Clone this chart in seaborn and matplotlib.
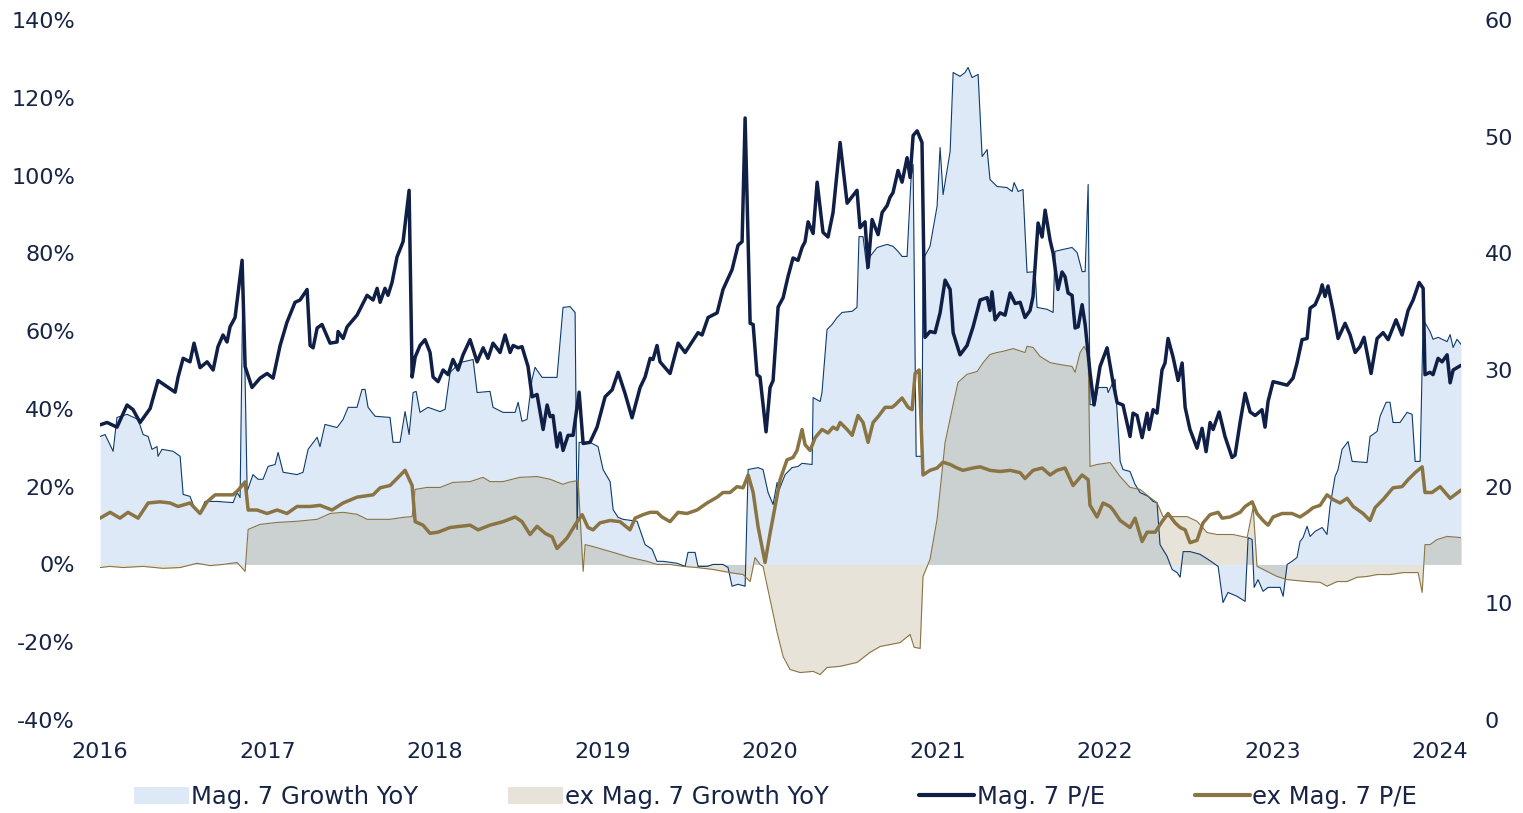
import numpy as np
import pandas as pd
import matplotlib
matplotlib.use("Agg")
import matplotlib.pyplot as plt
from matplotlib.patches import Patch
from matplotlib.lines import Line2D
import seaborn as sns

# (decimal year, value) pairs
mag7_growth = [
    (2016.000, 32.9), (2016.030, 33.4), (2016.078, 29.1), (2016.101, 37.8), (2016.161, 38.6),
    (2016.227, 37.3), (2016.257, 33.4), (2016.287, 32.9), (2016.310, 29.6), (2016.340, 30.3),
    (2016.346, 27.8), (2016.370, 29.6), (2016.436, 29.1), (2016.478, 27.8), (2016.496, 18.0),
    (2016.537, 17.5), (2016.567, 14.1), (2016.597, 13.4), (2016.627, 16.2), (2016.699, 16.2),
    (2016.794, 15.9), (2016.818, 18.5), (2016.836, 17.2), (2016.854, 76.6), (2016.878, 18.8),
    (2016.913, 23.1), (2016.943, 21.9), (2016.973, 21.9), (2017.003, 25.2), (2017.045, 25.7),
    (2017.063, 28.8), (2017.093, 23.7), (2017.176, 23.1), (2017.212, 23.7), (2017.242, 29.6),
    (2017.296, 32.7), (2017.313, 30.3), (2017.343, 36.0), (2017.415, 35.2), (2017.451, 37.3),
    (2017.481, 40.4), (2017.534, 40.4), (2017.564, 45.0), (2017.582, 45.0), (2017.600, 40.4),
    (2017.642, 38.1), (2017.731, 37.8), (2017.749, 31.4), (2017.791, 31.4), (2017.821, 39.3),
    (2017.845, 33.4), (2017.869, 44.2), (2017.887, 44.5), (2017.910, 39.1), (2017.958, 40.4),
    (2018.030, 39.3), (2018.060, 39.9), (2018.090, 49.4), (2018.149, 51.9), (2018.227, 52.7),
    (2018.251, 44.2), (2018.328, 44.5), (2018.346, 40.4), (2018.406, 39.1), (2018.478, 39.1),
    (2018.496, 41.7), (2018.519, 36.8), (2018.549, 37.3), (2018.579, 47.6), (2018.597, 50.7),
    (2018.639, 48.1), (2018.728, 48.1), (2018.764, 66.1), (2018.806, 66.3), (2018.836, 64.8),
    (2018.848, 9.0), (2018.860, 31.4), (2018.925, 31.4), (2018.973, 30.3), (2019.003, 24.4),
    (2019.045, 21.3), (2019.063, 14.1), (2019.093, 12.1), (2019.122, 11.6), (2019.206, 11.1),
    (2019.254, 5.1), (2019.296, 3.9), (2019.325, 0.8), (2019.361, 0.8), (2019.445, 0.3),
    (2019.493, -0.5), (2019.510, 3.1), (2019.552, 3.1), (2019.570, -0.5), (2019.624, -0.5),
    (2019.660, 0.0), (2019.719, 0.0), (2019.749, -0.8), (2019.773, -5.6), (2019.809, -5.1),
    (2019.851, -5.6), (2019.869, 24.4), (2019.928, 24.9), (2019.958, 24.4), (2019.988, 18.5),
    (2020.018, 15.4), (2020.042, 21.1), (2020.048, 18.5), (2020.090, 23.1), (2020.131, 24.9),
    (2020.167, 25.2), (2020.191, 26.0), (2020.251, 25.7), (2020.257, 42.9), (2020.299, 41.9),
    (2020.310, 44.2), (2020.340, 60.4), (2020.370, 61.7), (2020.400, 63.5), (2020.430, 64.8),
    (2020.490, 65.1), (2020.519, 66.1), (2020.531, 84.3), (2020.555, 84.3), (2020.579, 75.9),
    (2020.597, 79.2), (2020.639, 81.5), (2020.699, 82.3), (2020.734, 81.8), (2020.764, 80.5),
    (2020.788, 79.2), (2020.818, 79.2), (2020.842, 99.5), (2020.854, 102.9), (2020.872, 27.8),
    (2020.907, 27.8), (2020.913, 78.4), (2020.955, 81.8), (2020.997, 92.1), (2021.015, 107.2),
    (2021.033, 95.1), (2021.075, 106.2), (2021.093, 126.5), (2021.134, 125.5), (2021.164, 126.5),
    (2021.182, 127.8), (2021.206, 125.2), (2021.242, 126.0), (2021.266, 104.9), (2021.296, 106.7),
    (2021.313, 99.0), (2021.355, 97.2), (2021.415, 96.9), (2021.445, 95.9), (2021.457, 98.2),
    (2021.481, 95.9), (2021.510, 96.4), (2021.534, 75.1), (2021.582, 75.3), (2021.594, 66.1),
    (2021.654, 65.6), (2021.690, 64.8), (2021.701, 80.5), (2021.749, 81.0), (2021.803, 81.5),
    (2021.833, 80.2), (2021.863, 75.3), (2021.881, 75.3), (2021.899, 97.7), (2021.910, 41.1),
    (2021.940, 41.1), (2021.958, 45.5), (2022.012, 45.5), (2022.018, 44.2), (2022.042, 46.3),
    (2022.060, 47.6), (2022.090, 26.5), (2022.107, 24.4), (2022.149, 23.9), (2022.179, 20.6),
    (2022.209, 18.5), (2022.257, 17.5), (2022.287, 16.2), (2022.310, 15.9), (2022.328, 5.1),
    (2022.370, 2.1), (2022.400, -1.3), (2022.430, -2.1), (2022.448, -3.3), (2022.466, 3.3),
    (2022.507, 3.3), (2022.567, 2.6), (2022.615, 1.3), (2022.675, -0.5), (2022.704, -9.8),
    (2022.734, -7.2), (2022.788, -8.2), (2022.836, -9.5), (2022.854, 6.9), (2022.878, 6.4),
    (2022.890, -5.9), (2022.913, -3.9), (2022.943, -6.9), (2022.973, -5.9), (2023.045, -5.9),
    (2023.063, -8.2), (2023.087, 0.0), (2023.116, 0.8), (2023.146, 1.8), (2023.164, 5.9),
    (2023.182, 6.9), (2023.206, 9.8), (2023.224, 7.2), (2023.254, 8.5), (2023.296, 9.5),
    (2023.325, 7.7), (2023.343, 14.9), (2023.373, 22.6), (2023.391, 24.4), (2023.415, 29.6),
    (2023.451, 31.6), (2023.475, 26.5), (2023.564, 26.2), (2023.582, 32.9), (2023.624, 34.2),
    (2023.642, 38.1), (2023.678, 41.7), (2023.701, 41.7), (2023.719, 36.5), (2023.761, 36.5),
    (2023.803, 39.1), (2023.833, 38.6), (2023.851, 26.5), (2023.881, 26.5), (2023.899, 63.0),
    (2023.940, 59.9), (2023.958, 57.9), (2023.988, 58.4), (2024.042, 57.3), (2024.060, 59.1),
    (2024.078, 55.8), (2024.101, 57.9), (2024.125, 56.6),
]

ex_mag7_growth = [
    (2016.000, -0.8), (2016.060, -0.5), (2016.137, -0.8), (2016.257, -0.5), (2016.376, -1.0),
    (2016.478, -0.8), (2016.579, 0.3), (2016.657, -0.3), (2016.734, 0.0), (2016.818, 0.5),
    (2016.866, -1.8), (2016.884, 9.0), (2016.955, 10.3), (2017.057, 10.8), (2017.176, 11.1),
    (2017.296, 11.6), (2017.373, 13.1), (2017.451, 13.4), (2017.534, 12.9), (2017.594, 11.6),
    (2017.731, 11.6), (2017.809, 12.1), (2017.863, 12.3), (2017.881, 19.3), (2017.952, 19.8),
    (2018.030, 19.8), (2018.107, 21.1), (2018.209, 21.3), (2018.287, 22.4), (2018.328, 21.3),
    (2018.406, 21.3), (2018.507, 22.4), (2018.609, 22.6), (2018.687, 21.9), (2018.734, 21.1),
    (2018.764, 20.6), (2018.794, 21.1), (2018.854, 21.6), (2018.884, -1.8), (2018.896, 5.1),
    (2018.943, 4.6), (2019.063, 3.1), (2019.164, 1.8), (2019.266, 0.8), (2019.325, 0.0),
    (2019.403, 0.0), (2019.481, -0.5), (2019.564, -0.8), (2019.660, -1.3), (2019.761, -2.1),
    (2019.839, -2.6), (2019.881, -4.4), (2019.910, 1.8), (2019.940, 0.0), (2019.958, -0.5),
    (2020.000, -9.0), (2020.042, -17.5), (2020.078, -23.7), (2020.119, -27.0), (2020.179, -27.8),
    (2020.257, -27.5), (2020.299, -28.3), (2020.340, -26.5), (2020.418, -26.2), (2020.519, -25.2),
    (2020.597, -22.6), (2020.657, -21.1), (2020.776, -20.1), (2020.836, -18.0), (2020.860, -21.3),
    (2020.896, -21.6), (2020.913, -3.1), (2020.955, 1.3), (2020.997, 11.6), (2021.045, 31.4),
    (2021.087, 39.9), (2021.122, 46.8), (2021.176, 48.9), (2021.236, 49.6), (2021.272, 51.9),
    (2021.313, 54.0), (2021.355, 54.5), (2021.391, 54.8), (2021.451, 55.5), (2021.522, 54.5),
    (2021.534, 56.1), (2021.570, 55.8), (2021.612, 53.5), (2021.672, 51.9), (2021.731, 51.4),
    (2021.803, 50.9), (2021.821, 49.4), (2021.851, 54.5), (2021.875, 56.1), (2021.899, 54.0),
    (2021.910, 25.2), (2021.952, 25.7), (2022.030, 26.2), (2022.090, 22.6), (2022.149, 19.8),
    (2022.209, 19.3), (2022.269, 17.2), (2022.310, 15.9), (2022.346, 12.3), (2022.490, 12.3),
    (2022.549, 11.1), (2022.609, 8.2), (2022.669, 7.7), (2022.764, 7.7), (2022.848, 6.9),
    (2022.884, 14.7), (2022.907, -0.5), (2022.967, -1.8), (2023.027, -3.1), (2023.087, -3.9),
    (2023.206, -4.4), (2023.284, -4.6), (2023.325, -5.6), (2023.385, -4.4), (2023.445, -4.4),
    (2023.504, -3.3), (2023.564, -3.1), (2023.624, -2.6), (2023.701, -2.6), (2023.779, -2.1),
    (2023.869, -2.1), (2023.893, -7.2), (2023.910, 5.1), (2023.940, 5.1), (2023.982, 6.4),
    (2024.042, 7.2), (2024.125, 6.9),
]

mag7_pe = [
    (2016.000, 25.3), (2016.042, 25.5), (2016.101, 25.1), (2016.161, 27.0), (2016.197, 26.6),
    (2016.239, 25.5), (2016.299, 26.7), (2016.346, 29.1), (2016.448, 28.1), (2016.466, 29.4),
    (2016.496, 31.0), (2016.537, 30.7), (2016.561, 32.3), (2016.597, 30.2), (2016.639, 30.7),
    (2016.675, 30.0), (2016.704, 32.0), (2016.734, 33.0), (2016.758, 32.4), (2016.776, 33.7),
    (2016.806, 34.5), (2016.848, 39.4), (2016.866, 30.3), (2016.907, 28.5), (2016.955, 29.3),
    (2016.997, 29.7), (2017.033, 29.3), (2017.075, 32.1), (2017.116, 34.1), (2017.164, 35.8),
    (2017.194, 36.0), (2017.236, 36.9), (2017.254, 32.1), (2017.272, 31.9), (2017.296, 33.6),
    (2017.325, 33.9), (2017.373, 32.3), (2017.415, 32.4), (2017.421, 33.3), (2017.451, 32.7),
    (2017.475, 33.7), (2017.534, 34.7), (2017.594, 36.4), (2017.630, 36.0), (2017.654, 37.0),
    (2017.672, 35.8), (2017.701, 37.0), (2017.719, 36.4), (2017.743, 37.5), (2017.773, 39.7),
    (2017.809, 41.0), (2017.845, 45.4), (2017.863, 29.4), (2017.881, 31.1), (2017.910, 32.1),
    (2017.940, 32.6), (2017.970, 31.5), (2017.988, 29.4), (2018.018, 29.0), (2018.048, 30.0),
    (2018.078, 29.6), (2018.107, 30.9), (2018.137, 30.0), (2018.167, 31.3), (2018.209, 32.6),
    (2018.251, 30.7), (2018.287, 31.9), (2018.316, 31.0), (2018.346, 32.3), (2018.388, 31.5),
    (2018.418, 33.0), (2018.448, 31.5), (2018.466, 32.1), (2018.496, 31.9), (2018.519, 32.0),
    (2018.555, 30.3), (2018.579, 27.7), (2018.609, 27.9), (2018.645, 24.9), (2018.669, 27.0),
    (2018.687, 26.0), (2018.704, 26.1), (2018.728, 23.4), (2018.746, 24.6), (2018.764, 23.1),
    (2018.794, 24.4), (2018.824, 24.4), (2018.860, 28.1), (2018.884, 23.7), (2018.925, 23.8),
    (2018.967, 25.1), (2019.015, 27.7), (2019.057, 28.3), (2019.093, 29.8), (2019.134, 28.0),
    (2019.176, 25.9), (2019.224, 28.5), (2019.254, 29.4), (2019.284, 31.0), (2019.301, 30.9),
    (2019.325, 32.1), (2019.343, 30.7), (2019.403, 29.7), (2019.451, 32.3), (2019.493, 31.5),
    (2019.570, 33.2), (2019.594, 33.0), (2019.630, 34.5), (2019.684, 34.9), (2019.719, 36.9),
    (2019.773, 38.6), (2019.809, 40.7), (2019.833, 41.0), (2019.851, 51.6), (2019.881, 34.0),
    (2019.899, 33.9), (2019.922, 29.6), (2019.940, 29.4), (2019.976, 24.7), (2020.000, 28.5),
    (2020.018, 29.1), (2020.048, 35.4), (2020.078, 36.2), (2020.107, 38.0), (2020.137, 39.6),
    (2020.167, 39.4), (2020.191, 40.5), (2020.209, 41.0), (2020.227, 42.7), (2020.257, 41.7),
    (2020.281, 46.1), (2020.316, 41.8), (2020.346, 41.4), (2020.376, 43.5), (2020.418, 49.5),
    (2020.460, 44.3), (2020.519, 45.4), (2020.537, 42.2), (2020.567, 42.7), (2020.585, 38.8),
    (2020.609, 42.9), (2020.645, 41.6), (2020.669, 43.5), (2020.699, 44.1), (2020.716, 44.8),
    (2020.734, 45.2), (2020.764, 47.1), (2020.788, 46.1), (2020.818, 48.2), (2020.836, 46.5),
    (2020.854, 50.1), (2020.878, 50.5), (2020.907, 49.5), (2020.925, 32.8), (2020.955, 33.3),
    (2020.985, 33.2), (2021.015, 34.9), (2021.045, 37.7), (2021.075, 36.9), (2021.093, 33.2),
    (2021.134, 31.3), (2021.176, 32.1), (2021.212, 33.7), (2021.254, 36.0), (2021.296, 36.2),
    (2021.313, 35.1), (2021.325, 36.7), (2021.343, 34.3), (2021.373, 34.9), (2021.403, 34.7),
    (2021.433, 36.6), (2021.463, 35.7), (2021.493, 35.8), (2021.522, 34.5), (2021.552, 35.1),
    (2021.570, 36.3), (2021.600, 42.6), (2021.624, 41.4), (2021.642, 43.7), (2021.672, 41.1),
    (2021.690, 40.0), (2021.719, 36.9), (2021.743, 38.4), (2021.761, 38.0), (2021.779, 36.6),
    (2021.803, 36.4), (2021.821, 33.6), (2021.839, 33.7), (2021.863, 35.6), (2021.881, 33.9),
    (2021.910, 29.8), (2021.934, 27.0), (2021.970, 30.3), (2022.012, 31.9), (2022.048, 28.9),
    (2022.072, 27.2), (2022.107, 27.0), (2022.149, 24.3), (2022.167, 26.3), (2022.191, 26.1),
    (2022.221, 24.2), (2022.251, 26.3), (2022.263, 24.9), (2022.287, 26.6), (2022.310, 26.3),
    (2022.340, 30.0), (2022.358, 30.6), (2022.376, 32.7), (2022.406, 31.1), (2022.436, 29.1),
    (2022.460, 30.6), (2022.478, 26.8), (2022.507, 24.9), (2022.549, 23.3), (2022.579, 25.0),
    (2022.603, 23.0), (2022.627, 25.5), (2022.645, 24.9), (2022.681, 26.4), (2022.716, 24.3),
    (2022.758, 22.5), (2022.776, 22.7), (2022.806, 25.5), (2022.836, 28.0), (2022.866, 26.4),
    (2022.896, 26.1), (2022.913, 26.3), (2022.937, 26.6), (2022.955, 25.1), (2022.973, 27.3),
    (2023.003, 29.0), (2023.033, 28.9), (2023.087, 28.7), (2023.122, 29.3), (2023.146, 30.6),
    (2023.176, 32.6), (2023.206, 32.7), (2023.224, 35.3), (2023.254, 35.6), (2023.284, 36.6),
    (2023.296, 37.3), (2023.313, 36.3), (2023.331, 37.2), (2023.361, 35.1), (2023.391, 32.7),
    (2023.433, 34.0), (2023.463, 33.0), (2023.493, 31.5), (2023.522, 32.0), (2023.546, 32.8),
    (2023.588, 29.7), (2023.624, 32.7), (2023.660, 33.2), (2023.690, 32.6), (2023.737, 34.3),
    (2023.773, 33.0), (2023.809, 35.1), (2023.839, 36.0), (2023.875, 37.5), (2023.899, 37.0),
    (2023.910, 29.6), (2023.940, 29.8), (2023.958, 29.6), (2023.988, 31.0), (2024.012, 30.7),
    (2024.042, 31.3), (2024.060, 28.9), (2024.078, 30.0), (2024.125, 30.4),
]

ex_mag7_pe = [
    (2016.000, 17.3), (2016.060, 17.8), (2016.119, 17.3), (2016.167, 17.8), (2016.227, 17.3),
    (2016.287, 18.6), (2016.358, 18.7), (2016.418, 18.6), (2016.466, 18.3), (2016.537, 18.6),
    (2016.597, 17.7), (2016.639, 18.7), (2016.687, 19.3), (2016.758, 19.3), (2016.794, 19.3),
    (2016.824, 19.7), (2016.866, 20.4), (2016.884, 18.0), (2016.937, 18.0), (2016.997, 17.7),
    (2017.057, 18.0), (2017.116, 17.7), (2017.176, 18.3), (2017.254, 18.3), (2017.313, 18.4),
    (2017.385, 18.0), (2017.451, 18.6), (2017.534, 19.1), (2017.630, 19.3), (2017.672, 19.9),
    (2017.731, 20.1), (2017.773, 20.7), (2017.821, 21.4), (2017.863, 20.1), (2017.881, 17.0),
    (2017.928, 16.7), (2017.970, 16.0), (2018.018, 16.1), (2018.090, 16.5), (2018.149, 16.6),
    (2018.209, 16.7), (2018.257, 16.3), (2018.328, 16.7), (2018.406, 17.0), (2018.478, 17.4),
    (2018.519, 17.0), (2018.567, 15.9), (2018.609, 16.6), (2018.657, 16.0), (2018.699, 15.7),
    (2018.728, 14.7), (2018.788, 15.6), (2018.848, 17.0), (2018.878, 17.6), (2018.913, 16.5),
    (2018.943, 16.3), (2018.985, 16.9), (2019.045, 17.1), (2019.104, 17.0), (2019.164, 16.3),
    (2019.194, 17.3), (2019.242, 17.6), (2019.284, 17.8), (2019.325, 17.8), (2019.355, 17.4),
    (2019.403, 17.0), (2019.451, 17.8), (2019.504, 17.7), (2019.564, 18.0), (2019.624, 18.6),
    (2019.684, 19.1), (2019.719, 19.5), (2019.761, 19.5), (2019.803, 20.0), (2019.839, 19.9),
    (2019.869, 21.0), (2019.899, 19.5), (2019.928, 16.6), (2019.970, 13.5), (2020.000, 16.0),
    (2020.030, 18.3), (2020.060, 20.6), (2020.101, 22.3), (2020.137, 22.5), (2020.161, 23.1),
    (2020.191, 24.9), (2020.209, 23.6), (2020.239, 23.1), (2020.269, 24.2), (2020.310, 24.9),
    (2020.346, 24.6), (2020.376, 25.1), (2020.400, 24.9), (2020.418, 25.5), (2020.460, 24.9),
    (2020.490, 24.4), (2020.525, 26.1), (2020.555, 25.5), (2020.585, 23.8), (2020.615, 25.5),
    (2020.645, 26.0), (2020.687, 26.8), (2020.728, 26.8), (2020.746, 27.0), (2020.788, 27.6),
    (2020.824, 26.8), (2020.848, 26.6), (2020.866, 29.7), (2020.890, 30.0), (2020.913, 21.0),
    (2020.955, 21.4), (2020.997, 21.6), (2021.033, 22.1), (2021.075, 21.9), (2021.116, 21.6),
    (2021.152, 21.4), (2021.212, 21.6), (2021.254, 21.7), (2021.313, 21.4), (2021.373, 21.3),
    (2021.433, 21.4), (2021.493, 21.2), (2021.522, 20.7), (2021.570, 21.4), (2021.624, 21.6),
    (2021.672, 21.0), (2021.713, 21.4), (2021.761, 21.6), (2021.809, 20.1), (2021.863, 21.0),
    (2021.899, 20.6), (2021.910, 18.4), (2021.952, 17.4), (2021.988, 18.6), (2022.030, 18.3),
    (2022.048, 18.0), (2022.090, 17.1), (2022.149, 16.5), (2022.179, 17.3), (2022.221, 15.3),
    (2022.251, 16.1), (2022.299, 16.1), (2022.340, 17.0), (2022.376, 17.7), (2022.418, 16.9),
    (2022.448, 16.5), (2022.478, 16.3), (2022.507, 15.2), (2022.549, 15.4), (2022.585, 16.9),
    (2022.627, 17.6), (2022.675, 17.8), (2022.699, 17.3), (2022.746, 17.4), (2022.806, 17.8),
    (2022.836, 18.3), (2022.878, 18.7), (2022.907, 17.7), (2022.943, 17.1), (2022.973, 16.7),
    (2023.003, 17.4), (2023.057, 17.7), (2023.116, 17.7), (2023.164, 17.4), (2023.206, 17.8),
    (2023.242, 18.2), (2023.284, 18.4), (2023.325, 19.3), (2023.361, 18.9), (2023.403, 18.6),
    (2023.445, 19.0), (2023.481, 18.3), (2023.540, 17.7), (2023.582, 17.1), (2023.612, 18.2),
    (2023.660, 18.9), (2023.719, 19.9), (2023.773, 20.0), (2023.809, 20.6), (2023.851, 21.2),
    (2023.893, 21.7), (2023.910, 19.5), (2023.952, 19.5), (2024.000, 20.0), (2024.060, 19.0),
    (2024.125, 19.7),
]

years = list(range(2016, 2025))
pct_ticks = list(range(-40, 141, 20))
pe_ticks = list(range(0, 61, 10))
labels = ["Mag. 7 Growth YoY", "ex Mag. 7 Growth YoY", "Mag. 7 P/E", "ex Mag. 7 P/E"]

NAVY = "#101f45"
OLIVE = "#8a7443"
BLUE_FILL = "#dde9f6"
BLUE_EDGE = "#0d3b6e"
BEIGE_FILL = (125 / 255, 102 / 255, 45 / 255, 0.18)
TEXT = "#172446"


def to_frame(pairs, name):
    return pd.DataFrame(pairs, columns=["year", name])


sns.set_theme(style="white")
plt.rcParams["font.family"] = ["DejaVu Sans"]

g1 = to_frame(mag7_growth, "v")
g2 = to_frame(ex_mag7_growth, "v")
p1 = to_frame(mag7_pe, "v")
p2 = to_frame(ex_mag7_pe, "v")

fig = plt.figure(figsize=(15.23, 8.13), dpi=100)
ax = fig.add_axes([0.0657, 0.1144, 0.8936, 0.861])

ax.fill_between(g1["year"], 0, g1["v"], color=BLUE_FILL, lw=0)
ax.fill_between(g2["year"], 0, g2["v"], color=BEIGE_FILL, lw=0)
sns.lineplot(data=g1, x="year", y="v", ax=ax, color=BLUE_EDGE, linewidth=0.8,
             estimator=None, sort=False)
sns.lineplot(data=g2, x="year", y="v", ax=ax, color=OLIVE, linewidth=0.8,
             estimator=None, sort=False)

ax2 = ax.twinx()
sns.lineplot(data=p1, x="year", y="v", ax=ax2, color=NAVY, linewidth=2.5,
             estimator=None, sort=False)
sns.lineplot(data=p2, x="year", y="v", ax=ax2, color=OLIVE, linewidth=2.5,
             estimator=None, sort=False)

ax.set_xlim(2016, 2024.125)
ax.set_ylim(-40, 140)
ax2.set_ylim(0, 60)
ax.set_xticks(years)
ax.set_xticklabels([str(y) for y in years])
ax.set_yticks(pct_ticks)
ax.set_yticklabels([f"{v}%" for v in pct_ticks])
ax2.set_yticks(pe_ticks)
ax2.set_yticklabels([str(v) for v in pe_ticks])

for a in (ax, ax2):
    a.set_xlabel("")
    a.set_ylabel("")
    for s in a.spines.values():
        s.set_visible(False)
    a.grid(False)
ax.tick_params(axis="x", length=0, pad=16, labelsize=16, labelcolor=TEXT)
ax.tick_params(axis="y", length=0, pad=18, labelsize=16, labelcolor=TEXT)
ax2.tick_params(axis="y", length=0, pad=17, labelsize=16, labelcolor=TEXT)

handles = [
    Patch(facecolor=BLUE_FILL, edgecolor="none"),
    Patch(facecolor=BEIGE_FILL, edgecolor="none"),
    Line2D([0], [0], color=NAVY, lw=3),
    Line2D([0], [0], color=OLIVE, lw=3),
]
fig.legend(handles, labels, loc="center", bbox_to_anchor=(0.509, 1 - 797 / 813),
           ncol=4, frameon=False, fontsize=17.5, labelcolor=TEXT,
           handlelength=2.26, handletextpad=0.1, columnspacing=3.7)

fig.savefig("out.png", dpi=100)
